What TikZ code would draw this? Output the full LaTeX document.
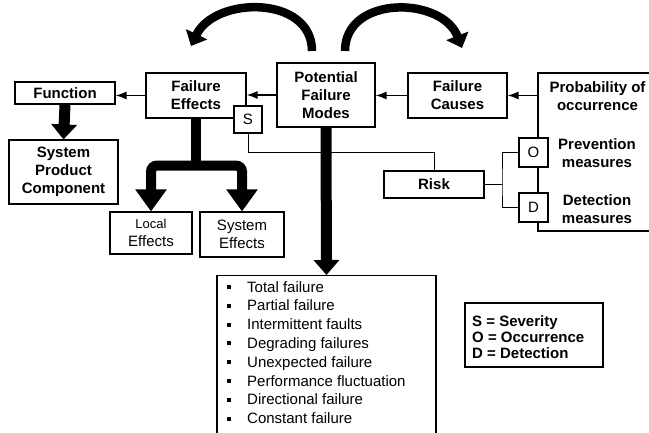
\documentclass[tikz,border=0pt]{standalone}
\usepackage{fontspec}
\setmainfont{Liberation Sans}
\usetikzlibrary{arrows.meta,positioning,calc}

\newcommand{\sqb}{\makebox[20pt][l]{\rule[3pt]{4pt}{4pt}}}

\begin{document}
\begin{tikzpicture}[x=1pt,y=1pt,
    box/.style={draw,line width=1.1pt,fill=white,align=center,inner sep=0pt,
      font=\fontsize{15}{18}\selectfont\bfseries},
    plainbox/.style={box,font=\fontsize{15}{18}\selectfont},
    txt/.style={align=center,inner sep=0pt,font=\fontsize{15}{18}\selectfont\bfseries},
    thin/.style={line width=1.5pt,-{Latex[length=11pt,width=8pt]}},
    link/.style={line width=1pt},
    fat/.style={line width=11pt,-{Triangle[length=15pt,width=25pt]}},
    fork/.style={line width=10pt,rounded corners=6pt,-{Triangle[length=22pt,width=30pt]}},
    curl/.style={line width=8.5pt,-{Triangle[length=13pt,width=23pt]}}]
  \useasboundingbox (0,0) rectangle (649,-433);

  % boxes in the top row
  \node[box,minimum width=100pt,minimum height=22pt] (func) at (65,-93) {Function};
  \node[box,minimum width=109pt,minimum height=64pt] (spc) at (63.5,-172) {System\\Product\\Component};
  \node[box,minimum width=100pt,minimum height=45pt] (fe) at (196,-95.5) {Failure\\Effects};
  \node[box,minimum width=98pt,minimum height=64pt] (pfm) at (326,-95) {Potential\\Failure\\Modes};
  \node[box,minimum width=99pt,minimum height=45pt] (fc) at (457.5,-95.5) {Failure\\Causes};
  \node[box,minimum width=124pt,minimum height=158pt] (prob) at (600,-152) {};
  \node[txt] (occ) at (597.5,-96) {Probability of\\occurrence};
  \node[txt] (prev) at (597,-153) {Prevention\\measures};
  \node[txt] (det) at (597,-209) {Detection\\measures};

  % effects below
  \node[plainbox,minimum width=82pt,minimum height=42pt] (local) at (151,-233)
    {{\fontsize{13}{16}\selectfont Local}\\Effects};
  \node[plainbox,minimum width=84pt,minimum height=45pt] (sysfx) at (242,-234.5) {System\\Effects};
  \node[box,minimum width=100pt,minimum height=27pt] (risk) at (434,-184.5) {Risk};

  % rating links
  \coordinate (sr) at (434,-153);
  \coordinate (rj) at (502,-184.5);
  \draw[link] (248,-120) |- (sr) -- (risk.north);
  \draw[link] (risk.east) -- (rj);
  \draw[link] (533,-152.5) -| (rj) |- (533,-207.5);
  \node[plainbox,minimum width=28pt,minimum height=27pt] (sbox) at (248,-119.5) {S};
  \node[plainbox,minimum width=29pt,minimum height=29pt] (obox) at (533.5,-152.5) {O};
  \node[plainbox,minimum width=29pt,minimum height=29pt] (dbox) at (533.5,-207.5) {D};

  % failure list
  \node[draw,line width=1.1pt,minimum width=219pt,minimum height=180pt,anchor=north] (list) at (326.5,-275) {};
  \node[anchor=north west,align=left,inner sep=0pt,font=\fontsize{15}{18.8}\selectfont] (items) at (227,-281)
    {\sqb Total failure\\ \sqb Partial failure\\ \sqb Intermittent faults\\ \sqb Degrading failures\\
     \sqb Unexpected failure\\ \sqb Performance fluctuation\\ \sqb Directional failure\\ \sqb Constant failure};

  % legend
  \node[box,minimum width=138pt,minimum height=64pt] (legend) at (534,-335) {};
  \node[txt,anchor=north west,align=left,font=\fontsize{15}{16}\selectfont\bfseries] (key) at (472,-315)
    {S = Severity\\O = Occurrence\\D = Detection};

  % thin arrows
  \draw[thin] (fe.west) -- (fe.west -| func.east);
  \draw[thin] (pfm.west) -- (pfm.west -| fe.east);
  \draw[thin] (fc.west) -- (fc.west -| pfm.east);
  \draw[thin] (fc.east -| prob.west) -- (fc.east);

  % thick arrows
  \draw[fat] (func.south) -- (spc.north);
  \draw[fat] (pfm.south) -- (list.north);
  \coordinate (fj) at ($(fe.south)+(0,-47)$);
  \draw[line width=10pt] (fe.south) -- (fj);
  \draw[fork] (fj) -| (local.north);
  \draw[fork] (fj) -| (sysfx.north);

  % curved arrows
  \draw[curl] (312,-51) .. controls (312,5) and (215,4) .. (191,-46);
  \draw[curl] (345,-51) .. controls (345,5) and (442,4) .. (462,-48);
\end{tikzpicture}
\end{document}
